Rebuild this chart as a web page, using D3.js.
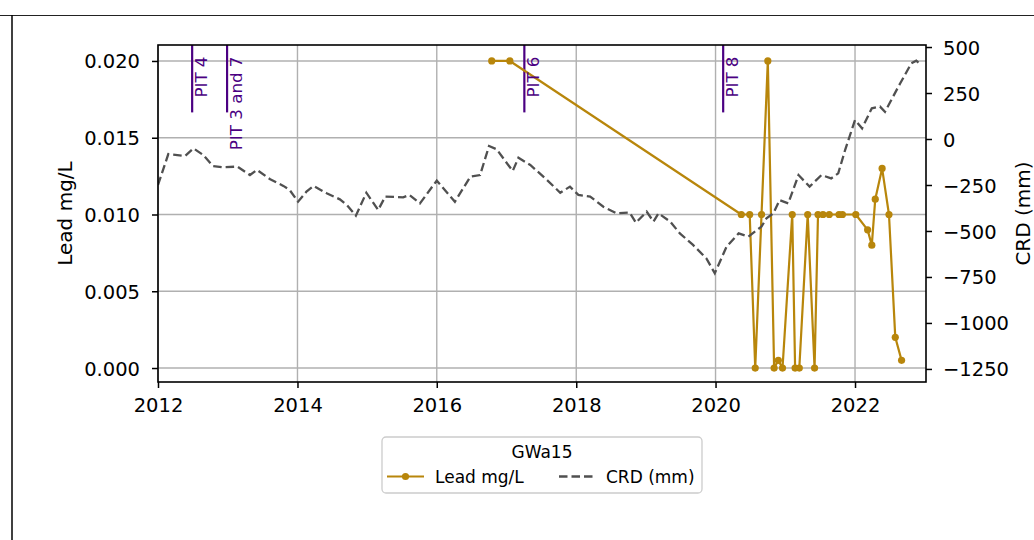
<!DOCTYPE html>
<html>
<head>
<meta charset="utf-8">
<script src="https://cdn.jsdelivr.net/npm/d3@7"></script>
<style>
  html, body { margin: 0; padding: 0; background: #fff; }
  svg { display: block; font-family: "DejaVu Sans", sans-serif; }
</style>
</head>
<body>
<svg id="chart" width="1034" height="540"></svg>
<script>
// ---------------- data ----------------
const crdDates = [
  "2012-01-01","2012-02-24","2012-05-22","2012-07-05","2012-08-25","2012-10-15","2012-12-09",
  "2013-02-20","2013-04-27","2013-06-03","2013-08-11","2013-10-19","2013-11-21",
  "2014-01-04","2014-02-17","2014-03-26","2014-06-03","2014-08-11","2014-09-17","2014-11-03","2014-12-28",
  "2015-02-28","2015-04-06","2015-07-09","2015-08-11","2015-10-05",
  "2016-01-01","2016-04-05","2016-06-25","2016-08-15","2016-10-01","2016-11-10",
  "2017-02-02","2017-03-04","2017-05-05","2017-08-01","2017-10-09","2017-11-29",
  "2018-01-12","2018-03-15","2018-05-23","2018-07-31","2018-10-08","2018-11-10",
  "2019-01-05","2019-02-10","2019-03-08","2019-05-08","2019-06-28","2019-09-05","2019-11-14","2019-12-28",
  "2020-02-28","2020-05-01","2020-06-21","2020-08-29","2020-09-24","2020-10-30","2020-12-02",
  "2021-01-16","2021-03-11","2021-05-08","2021-07-09","2021-08-29","2021-10-05","2021-11-10",
  "2022-01-01","2022-02-07","2022-03-30","2022-05-12","2022-06-07","2022-08-26","2022-10-23","2022-11-18","2022-12-14"
];
const crdValues = [
  -250,-82,-92,-51,-87,-147,-154,
  -150,-196,-168,-219,-255,-277,
  -341,-286,-255,-295,-328,-359,-417,-292,
  -386,-313,-317,-304,-350,
  -226,-341,-205,-196,-38,-56,
  -174,-102,-141,-223,-292,-259,
  -304,-313,-368,-404,-400,-455,
  -395,-449,-404,-449,-513,-576,-649,-730,
  -585,-513,-531,-476,-431,-404,-332,
  -350,-196,-259,-196,-214,-187,-60,
  103,58,167,176,148,303,411,426,402
];

const leadDates = [
  "2016-10-15","2017-01-18",
  "2020-05-15","2020-06-28","2020-07-27","2020-08-29","2020-10-01","2020-11-03","2020-11-25","2020-12-17",
  "2021-02-06","2021-02-21","2021-03-15","2021-04-28","2021-06-03","2021-06-21","2021-07-17","2021-08-19",
  "2021-10-09","2021-10-27",
  "2022-01-05","2022-03-08","2022-03-30","2022-04-17","2022-05-23","2022-06-28","2022-07-31","2022-09-02"
];
const leadValues = [
  0.020,0.020,
  0.010,0.010,0.000,0.010,0.020,0.000,0.0005,0.000,
  0.010,0.000,0.000,0.010,0.000,0.010,0.010,0.010,
  0.010,0.010,
  0.010,0.009,0.008,0.011,0.013,0.010,0.002,0.0005
];

const pitDates  = ["2012-06-28","2012-12-28","2017-04-04","2020-02-10"];
const pitLabels = ["PIT 4","PIT 3 and 7","PIT 6","PIT 8"];

const xTickYears  = [2012,2014,2016,2018,2020,2022];
const leftTicks   = [0.000,0.005,0.010,0.015,0.020];
const rightTicks  = [-1250,-1000,-750,-500,-250,0,250,500];

const legendTitle = "GWa15";
const seriesNames = ["Lead mg/L","CRD (mm)"];
const axisLabels  = {left: "Lead mg/L", right: "CRD (mm)"};

// ---------------- layout ----------------
const svg = d3.select("#chart");
const P = {left: 158, right: 926, top: 45, bottom: 382};
const parse = d3.utcParse("%Y-%m-%d");

const leadColor = "#b8860b";
const crdColor = "#505050";
const pitColor = "#4b0082";
const gridColor = "#b0b0b0";

svg.append("rect").attr("width",1034).attr("height",540).attr("fill","#fff");

// outer frame fragments
svg.append("line").attr("x1",0).attr("x2",1034).attr("y1",15.5).attr("y2",15.5)
   .attr("stroke","#222").attr("stroke-width",1);
svg.append("line").attr("x1",12).attr("x2",12).attr("y1",15).attr("y2",540)
   .attr("stroke","#000").attr("stroke-width",1.5);

const x = d3.scaleUtc()
  .domain([parse("2012-01-01"), parse("2023-01-08")])
  .range([P.left, P.right]);
const yL = d3.scaleLinear().domain([-0.00091, 0.02104]).range([P.bottom, P.top]);
const yR = d3.scaleLinear().domain([-1321, 511]).range([P.bottom, P.top]);

const xTickDates = xTickYears.map(y => new Date(Date.UTC(y,0,1)));

// grid
const grid = svg.append("g");
grid.selectAll("line.vx").data(xTickDates).join("line")
  .attr("x1", d => x(d)).attr("x2", d => x(d))
  .attr("y1", P.top).attr("y2", P.bottom)
  .attr("stroke", gridColor).attr("stroke-width", 1.4);
grid.selectAll("line.hy").data(leftTicks).join("line")
  .attr("x1", P.left).attr("x2", P.right)
  .attr("y1", d => yL(d)).attr("y2", d => yL(d))
  .attr("stroke", gridColor).attr("stroke-width", 1.4);

// clip
svg.append("clipPath").attr("id","plotclip").append("rect")
  .attr("x",P.left).attr("y",P.top).attr("width",P.right-P.left).attr("height",P.bottom-P.top);

const plot = svg.append("g").attr("clip-path","url(#plotclip)");

// PIT vertical lines
const pitH = (P.bottom - P.top) * 0.2;
plot.selectAll("line.pit").data(pitDates).join("line")
  .attr("x1", d => x(parse(d))).attr("x2", d => x(parse(d)))
  .attr("y1", P.top).attr("y2", P.top + pitH)
  .attr("stroke", pitColor).attr("stroke-width", 2.2);

// Lead series
const leadData = leadDates.map((d,i) => ({date: parse(d), v: leadValues[i]}));
const leadLine = d3.line().x(d => x(d.date)).y(d => yL(d.v));
plot.append("path").datum(leadData).attr("d", leadLine)
  .attr("fill","none").attr("stroke",leadColor).attr("stroke-width",2.2)
  .attr("stroke-linejoin","round");
plot.selectAll("circle.lead").data(leadData).join("circle")
  .attr("cx", d => x(d.date)).attr("cy", d => yL(d.v)).attr("r", 3.6)
  .attr("fill", leadColor);

// CRD series
const crdData = crdDates.map((d,i) => ({date: parse(d), v: crdValues[i]}));
const crdLine = d3.line().x(d => x(d.date)).y(d => yR(d.v));
plot.append("path").datum(crdData).attr("d", crdLine)
  .attr("fill","none").attr("stroke",crdColor).attr("stroke-width",2.3)
  .attr("stroke-dasharray","8.5,4");

// PIT labels
svg.selectAll("text.pit").data(pitDates).join("text")
  .attr("transform", d => `translate(${x(parse(d)) + 15},56.5) rotate(-90)`)
  .attr("text-anchor","end")
  .attr("font-size","16.7px")
  .attr("fill", pitColor)
  .text((d,i) => pitLabels[i]);

// axes
const fs = "19.5px";
const xAxis = d3.axisBottom(x).tickValues(xTickDates).tickFormat(d3.utcFormat("%Y")).tickSize(6).tickPadding(10);
const gx = svg.append("g").attr("transform",`translate(0,${P.bottom})`).call(xAxis);
const yAxisL = d3.axisLeft(yL).tickValues(leftTicks).tickFormat(d3.format(".3f")).tickSize(6).tickPadding(12);
const gyl = svg.append("g").attr("transform",`translate(${P.left},0)`).call(yAxisL);
const yAxisR = d3.axisRight(yR).tickValues(rightTicks).tickFormat(d3.format("d")).tickSize(6).tickPadding(11);
const gyr = svg.append("g").attr("transform",`translate(${P.right},0)`).call(yAxisR);

[gx, gyl, gyr].forEach(g => {
  g.select(".domain").remove();
  g.selectAll(".tick line").attr("stroke","#000").attr("stroke-width",1.5);
  g.selectAll(".tick text").attr("fill","#000").attr("font-size",fs)
    .attr("font-family","DejaVu Sans, sans-serif");
});
gx.selectAll(".tick text").attr("dy","0.71em");
gyl.selectAll(".tick text").attr("dy","0.36em");
gyr.selectAll(".tick text").attr("dy","0.36em");

// frame
svg.append("rect").attr("x",P.left).attr("y",P.top)
  .attr("width",P.right-P.left).attr("height",P.bottom-P.top)
  .attr("fill","none").attr("stroke","#000").attr("stroke-width",1.6);

// axis labels
const midY = (P.top + P.bottom) / 2;
svg.append("text").attr("transform",`translate(71.5,${midY}) rotate(-90)`)
  .attr("text-anchor","middle").attr("font-size","20px").attr("fill","#000")
  .text(axisLabels.left);
svg.append("text").attr("transform",`translate(1029.5,${midY}) rotate(-90)`)
  .attr("text-anchor","middle").attr("font-size","20px").attr("fill","#000")
  .text(axisLabels.right);

// legend
const lg = svg.append("g");
lg.append("rect").attr("x",382).attr("y",437).attr("width",320).attr("height",56)
  .attr("rx",4).attr("fill","#fff").attr("fill-opacity",0.8)
  .attr("stroke","#cccccc").attr("stroke-width",1.3);
lg.append("text").attr("x",542).attr("y",457.5).attr("text-anchor","middle")
  .attr("font-size","17px").attr("fill","#000").text(legendTitle);
lg.append("line").attr("x1",387).attr("x2",424).attr("y1",476.5).attr("y2",476.5)
  .attr("stroke",leadColor).attr("stroke-width",2.2);
lg.append("circle").attr("cx",405.5).attr("cy",476.5).attr("r",3.6).attr("fill",leadColor);
lg.append("text").attr("x",435).attr("y",483).attr("font-size","17px").attr("fill","#000").text(seriesNames[0]);
lg.append("line").attr("x1",559).attr("x2",594).attr("y1",476.5).attr("y2",476.5)
  .attr("stroke",crdColor).attr("stroke-width",2.3).attr("stroke-dasharray","8.5,4");
lg.append("text").attr("x",606).attr("y",483).attr("font-size","17px").attr("fill","#000").text(seriesNames[1]);
</script>
</body>
</html>
